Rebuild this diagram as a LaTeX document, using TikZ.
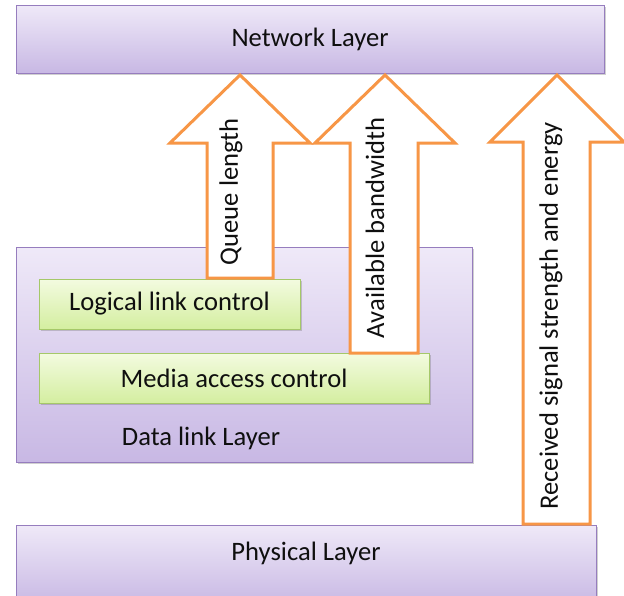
\documentclass[tikz,border=0pt]{standalone}
\usepackage{fontspec}
\setmainfont{Carlito}
\usetikzlibrary{shadows}
\definecolor{lavtop}{RGB}{239,233,248}
\definecolor{lavbot}{RGB}{200,184,228}
\definecolor{lavline}{RGB}{150,125,190}
\definecolor{grtop}{RGB}{243,251,224}
\definecolor{grbot}{RGB}{212,238,160}
\definecolor{grline}{RGB}{165,200,105}
\definecolor{orangeline}{RGB}{247,150,70}
\definecolor{txt}{RGB}{15,15,15}
\begin{document}
\begin{tikzpicture}[x=1pt,y=-1pt,
  layerbox/.style={draw=lavline, line width=1pt, top color=lavtop, bottom color=lavbot,
    drop shadow={shadow xshift=1.5pt,shadow yshift=-2pt,opacity=0.3,fill=black!60},
    inner sep=0pt, font=\fontsize{26.6}{30}\selectfont, text=txt},
  sublayer/.style={draw=grline, line width=1pt, top color=grtop, bottom color=grbot,
    drop shadow={shadow xshift=1.5pt,shadow yshift=-2pt,opacity=0.3,fill=black!60},
    inner sep=0pt, font=\fontsize{26.6}{30}\selectfont, text=txt},
  lbl/.style={font=\fontsize{26.6}{30}\selectfont, text=txt, inner sep=0pt},
  bigarrow/.style={draw=orangeline, line width=3pt, fill=white, line join=miter}
]
\useasboundingbox (0,0) rectangle (624,595);
\clip (0,0) rectangle (624,595);
\fill[white] (0,0) rectangle (624,595);

% layer boxes
\node[layerbox, minimum width=588pt, minimum height=68pt] (net) at (310,39) {Network Layer};
\node[layerbox, minimum width=456pt, minimum height=215pt] (dll) at (244,354.5) {};
\node[lbl] (dlltext) at (201,438) {Data link Layer};
\node[sublayer, minimum width=261pt, minimum height=50pt] (llc) at (169.5,304) {Logical link control};
\node[sublayer, minimum width=390pt, minimum height=50pt] (mac) at (234,378) {Media access control};
\node[layerbox, minimum width=580pt, minimum height=80pt] (phy) at (306,565) {};
\node[lbl] (phytext) at (306,553) {Physical Layer};

% block arrows
\draw[bigarrow] (240,75) -- (310,143) -- (273,143) -- (273,278) -- (207,278) -- (207,143) -- (170,143) -- cycle;
\node[lbl, rotate=90] (ql) at (231,192) {Queue length};

\draw[bigarrow] (385,75) -- (455,143) -- (418,143) -- (418,353) -- (350,353) -- (350,143) -- (315,143) -- cycle;
\node[lbl, rotate=90] (ab) at (375,228) {Available bandwidth};

\draw[bigarrow] (557,75) -- (624,142) -- (590,142) -- (590,524) -- (523,524) -- (523,142) -- (490,142) -- cycle;
\node[lbl, rotate=90] (rs) at (551,316) {Received signal strength and energy};
\end{tikzpicture}
\end{document}
